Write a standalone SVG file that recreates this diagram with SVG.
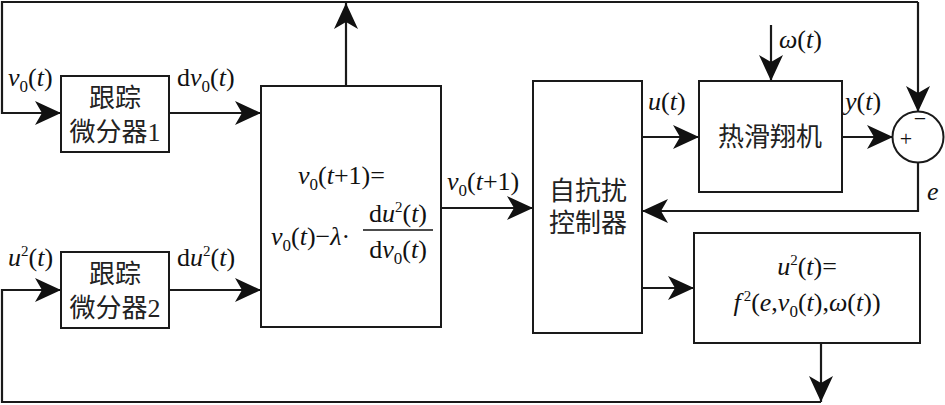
<svg xmlns="http://www.w3.org/2000/svg" width="945" height="405" viewBox="0 0 945 405">
<style>
.box{fill:#fff;stroke:#1a1a1a;stroke-width:2}
.ln{fill:none;stroke:#1a1a1a;stroke-width:2.2}
.arr{marker-end:url(#ah)}
.cjk{font-family:"Liberation Serif","Noto Sans CJK SC",serif;font-size:26px;fill:#222;text-anchor:middle}
.m{font-family:"Liberation Serif",serif;font-size:26px;fill:#111}
.i{font-style:italic}
.s{font-size:17px}
.p{font-size:15px}
</style>
<defs>
<marker id="ah" viewBox="-27 -13 28 26" markerWidth="28" markerHeight="26" refX="0" refY="0" orient="auto" markerUnits="userSpaceOnUse">
<path d="M0,0 L-26,-12 L-19,0 L-26,12 Z" fill="#111"/>
</marker>
</defs>
<rect width="945" height="405" fill="#fff"/>

<g id="connectors">
<path class="ln arr" d="M918,2 L2,2 L2,113 L61,113"/>
<path class="ln arr" d="M918,2 L918,112"/>
<path class="ln arr" d="M346,86 L346,3"/>
<path class="ln arr" d="M169,113 L261,113"/>
<path class="ln arr" d="M169,290 L261,290"/>
<path class="ln arr" d="M821,343 L821,402"/>
<path class="ln arr" d="M821,402 L2,402 L2,290 L61,290"/>
<path class="ln arr" d="M441,208 L533,208"/>
<path class="ln arr" d="M642,137 L699,137"/>
<path class="ln arr" d="M771,25 L771,81"/>
<path class="ln arr" d="M842,137 L893,137"/>
<path class="ln arr" d="M918,163 L918,211 L642,211"/>
<path class="ln arr" d="M642,288 L694,288"/>
</g>

<g id="labels">
<text class="m" x="8" y="86"><tspan class="i">v</tspan><tspan class="s" dy="6">0</tspan><tspan dy="-6">(</tspan><tspan class="i">t</tspan>)</text>
<text class="m" x="177" y="86">d<tspan class="i">v</tspan><tspan class="s" dy="6">0</tspan><tspan dy="-6">(</tspan><tspan class="i">t</tspan>)</text>
<text class="m" x="8" y="266"><tspan class="i">u</tspan><tspan class="p" dy="-10">2</tspan><tspan dy="10">(</tspan><tspan class="i">t</tspan>)</text>
<text class="m" x="177" y="266">d<tspan class="i">u</tspan><tspan class="p" dy="-10">2</tspan><tspan dy="10">(</tspan><tspan class="i">t</tspan>)</text>
<text class="m" x="447" y="190"><tspan class="i">v</tspan><tspan class="s" dy="6">0</tspan><tspan dy="-6">(</tspan><tspan class="i">t</tspan>+1)</text>
<text class="m" x="648" y="110"><tspan class="i">u</tspan>(<tspan class="i">t</tspan>)</text>
<text class="m" x="779" y="48"><tspan class="i">ω</tspan>(<tspan class="i">t</tspan>)</text>
<text class="m" x="845" y="110"><tspan class="i">y</tspan>(<tspan class="i">t</tspan>)</text>
<text class="m i" x="927" y="200">e</text>
</g>

<g id="td1">
<rect class="box" x="61" y="76" width="108" height="76"/>
<text class="cjk" x="115" y="107">跟踪</text>
<text class="cjk" x="115" y="141">微分器1</text>
</g>

<g id="td2">
<rect class="box" x="61" y="252" width="108" height="76"/>
<text class="cjk" x="115" y="283">跟踪</text>
<text class="cjk" x="115" y="317">微分器2</text>
</g>

<g id="optimizer">
<rect class="box" x="261" y="86" width="180" height="241"/>
<text class="m" x="298" y="184"><tspan class="i">v</tspan><tspan class="s" dy="6">0</tspan><tspan dy="-6">(</tspan><tspan class="i">t</tspan>+1)=</text>
<text class="m" x="271" y="245"><tspan class="i">v</tspan><tspan class="s" dy="6">0</tspan><tspan dy="-6">(</tspan><tspan class="i">t</tspan>)−<tspan class="i">λ</tspan>·</text>
<line x1="363" y1="230" x2="433" y2="230" stroke="#111" stroke-width="1.5"/>
<text class="m" x="398" y="222" text-anchor="middle">d<tspan class="i">u</tspan><tspan class="p" dy="-10">2</tspan><tspan dy="10">(</tspan><tspan class="i">t</tspan>)</text>
<text class="m" x="398" y="258" text-anchor="middle">d<tspan class="i">v</tspan><tspan class="s" dy="6">0</tspan><tspan dy="-6">(</tspan><tspan class="i">t</tspan>)</text>
</g>

<g id="adrc">
<rect class="box" x="533" y="81" width="109" height="252"/>
<text class="cjk" x="588" y="200" font-size="27">自抗扰</text>
<text class="cjk" x="588" y="232" font-size="27">控制器</text>
</g>

<g id="plant">
<rect class="box" x="699" y="81" width="143" height="111"/>
<text class="cjk" x="770" y="146" font-size="27">热滑翔机</text>
</g>

<g id="sum">
<circle cx="918" cy="137" r="25.5" fill="#fff" stroke="#1a1a1a" stroke-width="2"/>
<text x="906" y="146" font-family="Liberation Serif,serif" font-size="22" text-anchor="middle" fill="#111">+</text>
<text x="920" y="126" font-family="Liberation Serif,serif" font-size="22" text-anchor="middle" fill="#111">−</text>
</g>

<g id="fcalc">
<rect class="box" x="694" y="233" width="226" height="110"/>
<text class="m" x="807" y="275" text-anchor="middle"><tspan class="i">u</tspan><tspan class="p" dy="-10">2</tspan><tspan dy="10">(</tspan><tspan class="i">t</tspan>)=</text>
<text class="m" x="807" y="311" text-anchor="middle"><tspan class="i">f</tspan><tspan class="p" dx="3" dy="-10">2</tspan><tspan dy="10">(</tspan><tspan class="i">e</tspan>,<tspan class="i">v</tspan><tspan class="s" dy="6">0</tspan><tspan dy="-6">(</tspan><tspan class="i">t</tspan>),<tspan class="i">ω</tspan>(<tspan class="i">t</tspan>))</text>
</g>
</svg>
